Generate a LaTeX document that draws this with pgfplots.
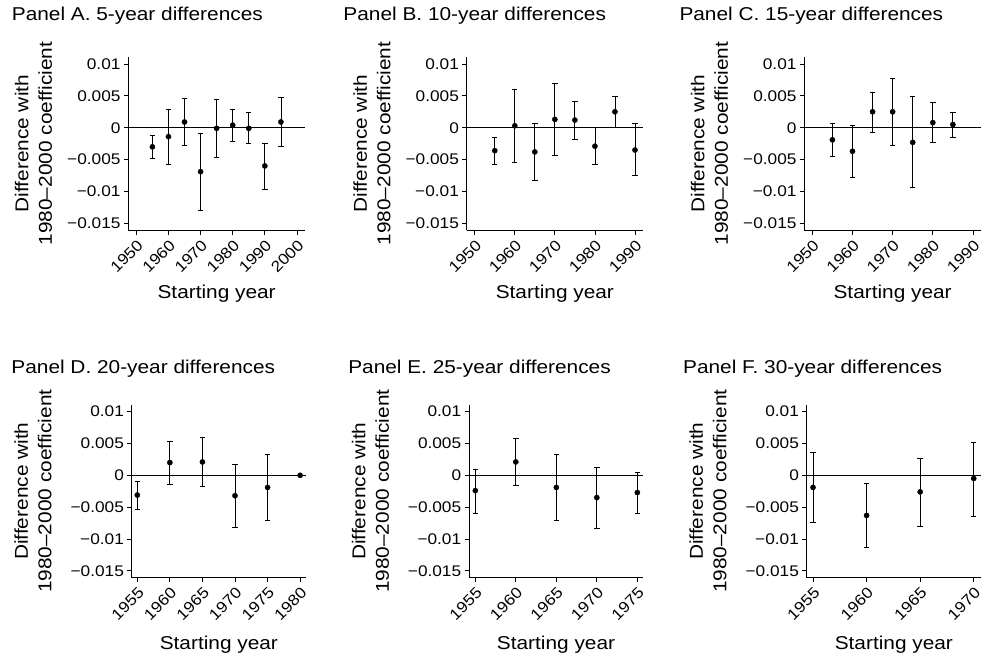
\documentclass[border=0pt]{standalone}
\usepackage{fontspec}
\setmainfont{Liberation Sans}[FakeStretch=1.12]
\usepackage{pgfplots}
\usepackage{pgfplotstable}
\pgfplotsset{compat=1.18}

% estimate, upper and lower end of the interval
\pgfplotstableread{
x    y       hi      lo
1955 -0.0030 -0.0012 -0.0048
1960 -0.0014  0.0028 -0.0057
1965  0.0009  0.0046 -0.0028
1970 -0.0069 -0.0009 -0.0129
1975 -0.0001  0.0045 -0.0046
1980  0.0004  0.0028 -0.0021
1985 -0.0001  0.0024 -0.0025
1990 -0.0060 -0.0024 -0.0097
1995  0.0009  0.0047 -0.0030
}\panelA
\pgfplotstableread{
x    y       hi      lo
1955 -0.0036 -0.0015 -0.0057
1960  0.0003  0.0060 -0.0054
1965 -0.0038  0.0006 -0.0083
1970  0.0013  0.0069 -0.0044
1975  0.0012  0.0041 -0.0018
1980 -0.0029  0.0000 -0.0057
1985  0.0025  0.0049  0.0000
1990 -0.0035  0.0006 -0.0075
}\panelB
\pgfplotstableread{
x    y       hi      lo
1955 -0.0019  0.0006 -0.0045
1960 -0.0037  0.0003 -0.0078
1965  0.0025  0.0056 -0.0007
1970  0.0025  0.0077 -0.0027
1975 -0.0023  0.0049 -0.0094
1980  0.0008  0.0040 -0.0023
1985  0.0005  0.0024 -0.0015
}\panelC
\pgfplotstableread{
x    y       hi      lo
1955 -0.0031 -0.0009 -0.0053
1960  0.0020  0.0054 -0.0015
1965  0.0021  0.0060 -0.0017
1970 -0.0032  0.0017 -0.0082
1975 -0.0019  0.0033 -0.0070
1980  0.0000  0.0000  0.0000
}\panelD
\pgfplotstableread{
x    y       hi      lo
1955 -0.0024  0.0010 -0.0059
1960  0.0021  0.0058 -0.0016
1965 -0.0019  0.0033 -0.0071
1970 -0.0035  0.0012 -0.0083
1975 -0.0027  0.0005 -0.0059
}\panelE
\pgfplotstableread{
x    y       hi      lo
1955 -0.0019  0.0036 -0.0074
1960 -0.0063 -0.0013 -0.0113
1965 -0.0026  0.0026 -0.0080
1970 -0.0005  0.0052 -0.0064
}\panelF

\pgfplotsset{
  coefpanel/.style={
    scale only axis, height=173.3pt,
    anchor=south west,
    ymin=-0.0161, ymax=0.0111,
    axis x line*=bottom, axis y line*=left,
    axis line style={black, line width=0.8pt},
    tick align=outside, major tick length=4.3pt,
    tick style={black, line width=0.8pt},
    scaled y ticks=false, scaled x ticks=false,
    ytick={-0.015,-0.01,-0.005,0,0.005,0.01},
    yticklabels={−0.015,−0.01,−0.005,0,0.005,0.01},
    tick label style={font=\fontsize{15.4}{16}\selectfont},
    xticklabel style={rotate=45, anchor=north east, inner sep=0pt},
    xticklabel shift=4pt,
    label style={font=\fontsize{18.6}{19.5}\selectfont},
    title style={font=\fontsize{18.6}{19.5}\selectfont, anchor=base west, inner sep=0pt},
    xlabel={Starting year},
    ylabel={Difference with\\1980–2000 coefficient},
    ylabel style={align=center, anchor=south, inner sep=0pt,
      font=\fontsize{18.6}{23.5}\selectfont},
    xlabel style={anchor=base, inner sep=0pt},
  },
  toprow/.style={
    ylabel style={at={(axis description cs:-0.4306,0.5)}},
    xlabel style={at={(axis description cs:0.5,-0.392)}},
  },
  bottomrow/.style={
    ylabel style={at={(axis description cs:-0.459,0.5)}},
    xlabel style={at={(axis description cs:0.5,-0.416)}},
  },
  zero/.style={black, line width=0.8pt, forget plot},
  coefs/.style={only marks, mark=*, mark size=2.6pt, black,
    error bars/.cd, y dir=both, y explicit,
    error bar style={line width=0.8pt, black},
    error mark options={rotate=90, black, mark size=2.7pt, line width=0.8pt}},
}

\newcommand{\coefplot}[1]{%
  \addplot[coefs] table[x=x, y=y,
    y error plus expr=\thisrow{hi}-\thisrow{y},
    y error minus expr=\thisrow{y}-\thisrow{lo}] {#1};}

\begin{document}
\begin{tikzpicture}
\useasboundingbox (0,0) rectangle (985pt,660pt);

% Panel A
\begin{axis}[coefpanel, toprow, at={(128.3pt,429.7pt)}, width=176.7pt,
  xmin=1947.5, xmax=2002.5,
  xtick={1950,1960,1970,1980,1990,2000},
  xticklabels={1950,1960,1970,1980,1990,2000},
  title={Panel A. 5-year differences},
  title style={at={(axis description cs:-0.660,1.175)}}]
\addplot[zero] coordinates {(1947.5,0) (2002.5,0)};
\coefplot{\panelA}
\end{axis}

% Panel B
\begin{axis}[coefpanel, toprow, at={(466.7pt,429.7pt)}, width=176.3pt,
  xmin=1948, xmax=1992,
  xtick={1950,1960,1970,1980,1990},
  xticklabels={1950,1960,1970,1980,1990},
  title={Panel B. 10-year differences},
  title style={at={(axis description cs:-0.700,1.175)}}]
\addplot[zero] coordinates {(1948,0) (1992,0)};
\coefplot{\panelB}
\end{axis}

% Panel C
\begin{axis}[coefpanel, toprow, at={(804.3pt,429.7pt)}, width=176.7pt,
  xmin=1948, xmax=1992,
  xtick={1950,1960,1970,1980,1990},
  xticklabels={1950,1960,1970,1980,1990},
  title={Panel C. 15-year differences},
  title style={at={(axis description cs:-0.7074,1.175)}}]
\addplot[zero] coordinates {(1948,0) (1992,0)};
\coefplot{\panelC}
\end{axis}

% Panel D
\begin{axis}[coefpanel, bottomrow, at={(131.7pt,82.1pt)}, width=174.3pt,
  xmin=1954.14, xmax=1980.9,
  xtick={1955,1960,1965,1970,1975,1980},
  xticklabels={1955,1960,1965,1970,1975,1980},
  title={Panel D. 20-year differences},
  title style={at={(axis description cs:-0.691,1.142)}}]
\addplot[zero] coordinates {(1954.14,0) (1980.9,0)};
\coefplot{\panelD}
\end{axis}

% Panel E
\begin{axis}[coefpanel, bottomrow, at={(469pt,82.1pt)}, width=174pt,
  xmin=1954.22, xmax=1975.7,
  xtick={1955,1960,1965,1970,1975},
  xticklabels={1955,1960,1965,1970,1975},
  title={Panel E. 25-year differences},
  title style={at={(axis description cs:-0.695,1.142)}}]
\addplot[zero] coordinates {(1954.22,0) (1975.7,0)};
\coefplot{\panelE}
\end{axis}

% Panel F
\begin{axis}[coefpanel, bottomrow, at={(806.7pt,82.1pt)}, width=174.3pt,
  xmin=1954.41, xmax=1970.68,
  xtick={1955,1960,1965,1970},
  xticklabels={1955,1960,1965,1970},
  title={Panel F. 30-year differences},
  title style={at={(axis description cs:-0.710,1.142)}}]
\addplot[zero] coordinates {(1954.41,0) (1970.68,0)};
\coefplot{\panelF}
\end{axis}
\end{tikzpicture}
\end{document}
